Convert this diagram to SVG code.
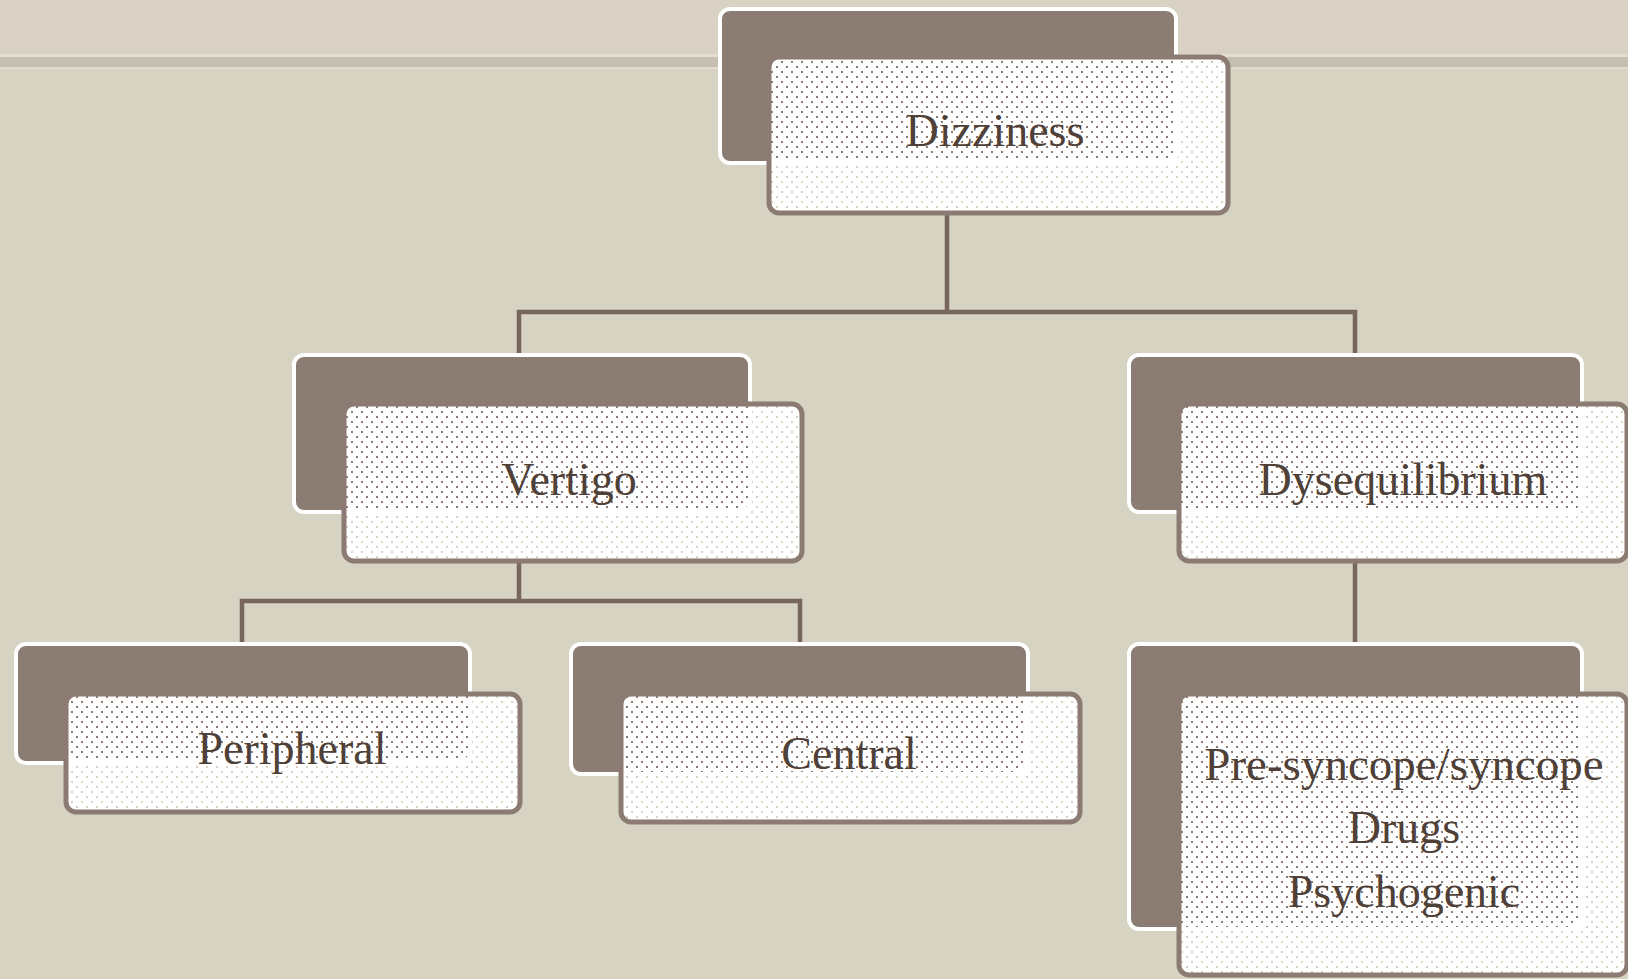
<svg xmlns="http://www.w3.org/2000/svg" width="1628" height="979" viewBox="0 0 1628 979">
  <style>
    .back { fill: #8c7d74; stroke: #ffffff; stroke-width: 4; }
    .front { fill: url(#dots); stroke: #8b7b72; stroke-width: 5; }
    .label { font-family: "Liberation Serif", "Times New Roman", serif; font-size: 46px; fill: #4f4038; text-anchor: middle; }
    .conn { fill: none; stroke: #76665e; stroke-width: 4.5; stroke-linecap: square; }
  </style>
  <defs>
    <pattern id="dots" x="0" y="0" width="10" height="10" patternUnits="userSpaceOnUse">
      <path d="M0 0h10v10h-10z M1 1h2v2h-2z M6 6h2v2h-2z" fill="#ffffff" fill-rule="evenodd"/>
    </pattern>
  </defs>

  <!-- background -->
  <rect x="0" y="0" width="1628" height="979" fill="#d7d3c3"/>
  <rect x="0" y="0" width="1628" height="55" fill="#d9d2c4"/>
  <rect x="0" y="54" width="1628" height="3" fill="#e3ddd0"/>
  <rect x="0" y="57" width="1628" height="10" fill="#c6beb1"/>
  <rect x="0" y="67" width="1628" height="2" fill="#e0dacd"/>

  <g id="connectors">
    <path class="conn" d="M947 213 V312 M519 312 H1355 M519 312 V355 M1355 312 V355"/>
    <path class="conn" d="M519 561 V601 M242 601 H800 M242 601 V644 M800 601 V644"/>
    <path class="conn" d="M1355 561 V644"/>
  </g>

  <g id="node-dizziness">
    <rect class="back" x="720" y="9" width="456" height="154" rx="10"/>
    <rect class="front" x="769" y="57" width="459" height="156" rx="10"/>
    <text class="label" x="995" y="146">Dizziness</text>
  </g>

  <g id="node-vertigo">
    <rect class="back" x="294" y="355" width="456" height="157" rx="10"/>
    <rect class="front" x="344" y="404" width="458" height="157" rx="10"/>
    <text class="label" x="569" y="495">Vertigo</text>
  </g>

  <g id="node-dysequilibrium">
    <rect class="back" x="1129" y="355" width="453" height="157" rx="10"/>
    <rect class="front" x="1179" y="404" width="448" height="157" rx="10"/>
    <text class="label" x="1403" y="495">Dysequilibrium</text>
  </g>

  <g id="node-peripheral">
    <rect class="back" x="16" y="644" width="454" height="119" rx="10"/>
    <rect class="front" x="66" y="694" width="454" height="118" rx="10"/>
    <text class="label" x="292" y="764">Peripheral</text>
  </g>

  <g id="node-central">
    <rect class="back" x="571" y="644" width="457" height="130" rx="10"/>
    <rect class="front" x="621" y="694" width="459" height="128" rx="10"/>
    <text class="label" x="849" y="769">Central</text>
  </g>

  <g id="node-other">
    <rect class="back" x="1129" y="644" width="453" height="285" rx="10"/>
    <rect class="front" x="1179" y="694" width="448" height="281" rx="10"/>
    <text class="label" x="1404" y="780" style="font-size:47px">Pre-syncope/syncope</text>
    <text class="label" x="1404" y="843">Drugs</text>
    <text class="label" x="1404" y="907">Psychogenic</text>
  </g>
</svg>
